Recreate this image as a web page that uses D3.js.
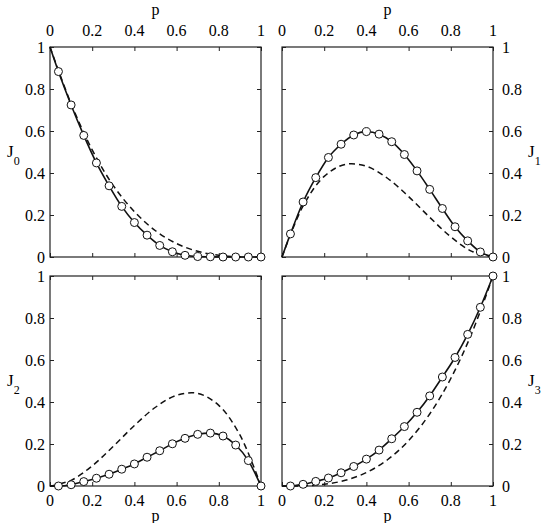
<!DOCTYPE html>
<html>
<head>
<meta charset="utf-8">
<script src="https://cdn.jsdelivr.net/npm/d3@7"></script>
<style>
  body { margin: 0; background: #fff; }
</style>
</head>
<body>
<div id="chart"></div>
<script>
// circle positions (p) and values
const pMarks = [0.04, 0.10, 0.16, 0.22, 0.28, 0.34, 0.40, 0.46, 0.52, 0.58, 0.64, 0.70, 0.76, 0.82, 0.88, 0.94, 1.00];
const j0Marks = [0.883, 0.724, 0.579, 0.448, 0.339, 0.241, 0.164, 0.104, 0.055, 0.025, 0.008, 0.002, 0.001, 0, 0, 0, 0];
const j1Marks = [0.110, 0.262, 0.378, 0.474, 0.537, 0.581, 0.597, 0.585, 0.549, 0.488, 0.410, 0.322, 0.231, 0.144, 0.077, 0.024, 0];
const j2Marks = [0.000, 0.006, 0.021, 0.037, 0.056, 0.080, 0.105, 0.137, 0.168, 0.201, 0.227, 0.246, 0.252, 0.238, 0.195, 0.121, 0];
const j3Marks = [0.000, 0.008, 0.022, 0.038, 0.063, 0.093, 0.128, 0.171, 0.225, 0.283, 0.351, 0.429, 0.519, 0.612, 0.722, 0.851, 1.0];
// values of each curve at p = 0
const startValues = [1, 0, 0, 0];

// dashed curves, read every 0.1 in p
const pDashed = [0, 0.1, 0.2, 0.3, 0.4, 0.5, 0.6, 0.7, 0.8, 0.9, 1.0];
const j0Dashed = [1, 0.73, 0.51, 0.34, 0.216, 0.125, 0.064, 0.027, 0.008, 0.001, 0];
const j1Dashed = [0, 0.243, 0.384, 0.441, 0.432, 0.375, 0.288, 0.189, 0.096, 0.027, 0];
const j2Dashed = [0, 0.027, 0.096, 0.189, 0.288, 0.375, 0.432, 0.441, 0.384, 0.243, 0];
const j3Dashed = [0, 0.001, 0.008, 0.027, 0.064, 0.125, 0.216, 0.343, 0.512, 0.729, 1];

const tickValues = [0, 0.2, 0.4, 0.6, 0.8, 1];
const tickLabels = ["0", "0.2", "0.4", "0.6", "0.8", "1"];

document.addEventListener("DOMContentLoaded", function() {
    const width = 549,
        height = 523;
    const serif = "'Liberation Serif', 'Times New Roman', Times, serif";

    const svg = d3.select("#chart")
        .append("svg")
        .attr("width", width)
        .attr("height", height)
        .style("font-family", serif);

    const panels = [
        { marks: j0Marks, dashed: j0Dashed, start: startValues[0], x0: 50, y0: 47, xSide: "top", ySide: "left", sub: "0" },
        { marks: j1Marks, dashed: j1Dashed, start: startValues[1], x0: 282, y0: 47, xSide: "top", ySide: "right", sub: "1" },
        { marks: j2Marks, dashed: j2Dashed, start: startValues[2], x0: 50, y0: 276, xSide: "bottom", ySide: "left", sub: "2" },
        { marks: j3Marks, dashed: j3Dashed, start: startValues[3], x0: 282, y0: 276, xSide: "bottom", ySide: "right", sub: "3" }
    ];

    const pw = 211, ph = 210, tickLen = 4;
    const fmt = d => tickLabels[tickValues.indexOf(d)];

    panels.forEach(pan => {
        const g = svg.append("g").attr("transform", `translate(${pan.x0},${pan.y0})`);
        const x = d3.scaleLinear().domain([0, 1]).range([0, pw]);
        const y = d3.scaleLinear().domain([0, 1]).range([ph, 0]);

        // inward ticks on every side
        const axes = [
            { ax: d3.axisBottom(x), t: `translate(0,0)` },
            { ax: d3.axisTop(x), t: `translate(0,${ph})` },
            { ax: d3.axisRight(y), t: `translate(0,0)` },
            { ax: d3.axisLeft(y), t: `translate(${pw},0)` }
        ];
        axes.forEach(a => {
            const ag = g.append("g").attr("transform", a.t)
                .call(a.ax.tickValues(tickValues).tickSize(tickLen).tickFormat(""));
            ag.select(".domain").remove();
            ag.selectAll("line").attr("stroke", "#222").attr("stroke-width", 1);
        });

        g.append("rect")
            .attr("width", pw).attr("height", ph)
            .attr("fill", "none").attr("stroke", "#222").attr("stroke-width", 1.2);

        // tick labels
        g.append("g").selectAll("text").data(tickValues).enter().append("text")
            .attr("x", d => x(d))
            .attr("y", pan.xSide === "top" ? -11 : ph + 20)
            .attr("text-anchor", "middle")
            .style("font-family", serif)
            .style("font-size", "16px")
            .text(fmt);

        g.append("g").selectAll("text").data(tickValues).enter().append("text")
            .attr("x", pan.ySide === "left" ? -5 : pw + 9)
            .attr("y", d => y(d))
            .attr("dy", "0.35em")
            .attr("text-anchor", pan.ySide === "left" ? "end" : "start")
            .style("font-family", serif)
            .style("font-size", "16px")
            .text(fmt);

        // axis title p
        g.append("text")
            .attr("x", x(0.5))
            .attr("y", pan.xSide === "top" ? -32 : ph + 35)
            .attr("text-anchor", "middle")
            .style("font-family", serif)
            .style("font-size", "16px")
            .text("p");

        // J label with subscript
        const jl = g.append("text")
            .attr("x", pan.ySide === "left" ? -43 : pw + 35)
            .attr("y", y(0.5) + 5)
            .style("font-family", serif)
            .style("font-size", "17px");
        jl.append("tspan").text("J");
        jl.append("tspan").attr("dy", 8).style("font-size", "12px").text(pan.sub);

        // dashed curve
        const dashedLine = d3.line()
            .x((d, i) => x(pDashed[i]))
            .y(d => y(d))
            .curve(d3.curveCatmullRom.alpha(0.5));
        g.append("path")
            .attr("d", dashedLine(pan.dashed))
            .attr("fill", "none")
            .attr("stroke", "#111")
            .attr("stroke-width", 1.5)
            .attr("stroke-dasharray", "6,4");

        // solid curve through circles
        const pts = [[0, pan.start]].concat(pMarks.map((p, i) => [p, pan.marks[i]]));
        const solidLine = d3.line()
            .x(d => x(d[0]))
            .y(d => y(d[1]))
            .curve(d3.curveMonotoneX);
        g.append("path")
            .attr("d", solidLine(pts))
            .attr("fill", "none")
            .attr("stroke", "#111")
            .attr("stroke-width", 1.6);

        g.append("g").selectAll("circle").data(pMarks).enter().append("circle")
            .attr("cx", d => x(d))
            .attr("cy", (d, i) => y(pan.marks[i]))
            .attr("r", 4)
            .attr("fill", "#fff")
            .attr("stroke", "#111")
            .attr("stroke-width", 1);
    });
});
</script>
</body>
</html>
